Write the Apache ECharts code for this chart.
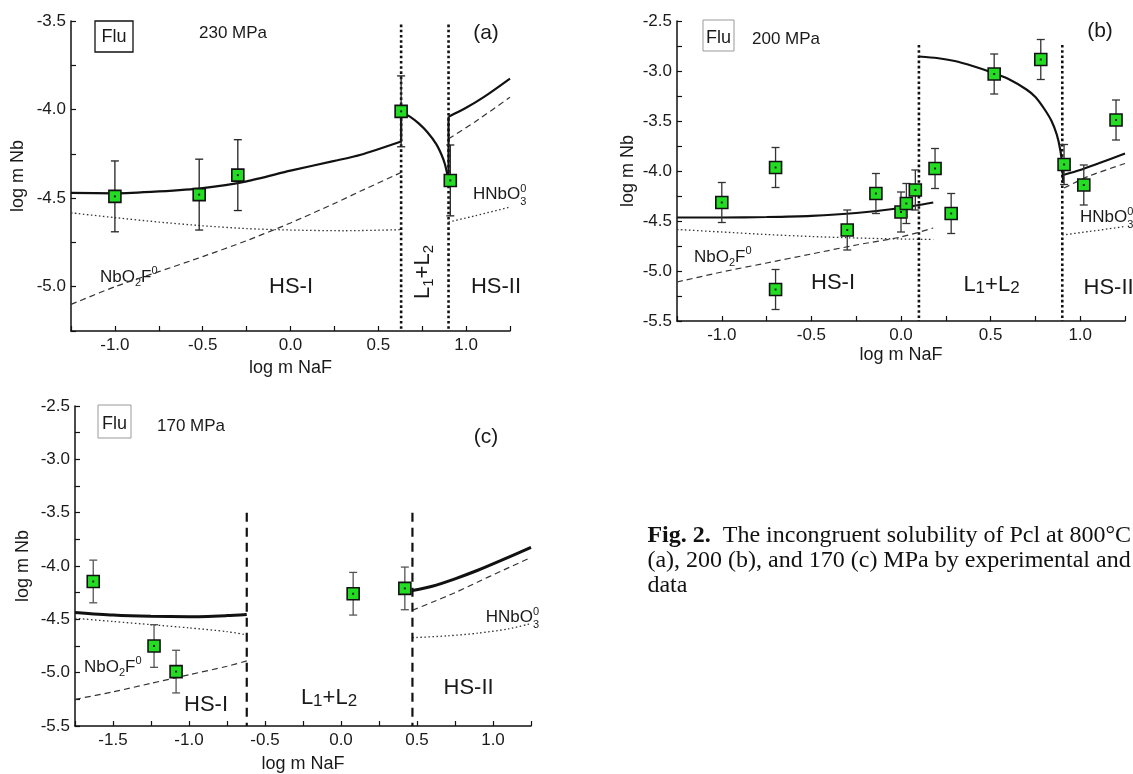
<!DOCTYPE html>
<html><head><meta charset="utf-8">
<script src="https://cdn.jsdelivr.net/npm/echarts@6/dist/echarts.min.js"></script>
<style>html,body{margin:0;padding:0;background:#fff}#c{width:1133px;height:774px}</style>
</head><body><div id="c"></div>
<script>
// ---------- Panel (a) 230 MPa ----------
const aExpX   = [-1.0, -0.52, -0.3, 0.63, 0.91];
const aExpY   = [-4.49, -4.48, -4.37, -4.01, -4.40];
const aExpErr = [0.2, 0.2, 0.2, 0.2, 0.2];
const aTot1X = [-1.25, -1.0, -0.75, -0.5, -0.25, 0, 0.25, 0.4, 0.63];
const aTot1Y = [-4.47, -4.473, -4.462, -4.443, -4.405, -4.345, -4.29, -4.255, -4.18];
const aL12X  = [0.63, 0.68, 0.73, 0.78, 0.83, 0.86, 0.88, 0.9];
const aL12Y  = [-4.01, -4.04, -4.078, -4.128, -4.195, -4.255, -4.31, -4.40];
const aTot2X = [0.9, 1.0, 1.1, 1.25];
const aTot2Y = [-4.04, -3.99, -3.93, -3.825];
const aNbO2F1X = [-1.25, -1.0, -0.75, -0.5, -0.25, 0, 0.25, 0.4, 0.63];
const aNbO2F1Y = [-5.10, -5.0, -4.915, -4.83, -4.74, -4.64, -4.53, -4.46, -4.355];
const aNbO2F2X = [0.9, 1.05, 1.25];
const aNbO2F2Y = [-4.165, -4.07, -3.93];
const aHNbO31X = [-1.25, -1.0, -0.75, -0.5, -0.25, 0, 0.3, 0.63];
const aHNbO31Y = [-4.583, -4.61, -4.635, -4.656, -4.672, -4.68, -4.684, -4.678];
const aHNbO32X = [0.9, 1.05, 1.25];
const aHNbO32Y = [-4.635, -4.6, -4.55];
const aBounds = [0.63, 0.9];
const aBoundTop = -3.52;

// ---------- Panel (b) 200 MPa ----------
const bExpX   = [-1.0, -0.7, -0.7, -0.3, -0.14, 0.0, 0.03, 0.08, 0.19, 0.28, 0.52, 0.78, 0.91, 1.02, 1.2];
const bExpY   = [-4.315, -3.965, -5.185, -4.59, -4.225, -4.41, -4.325, -4.19, -3.975, -4.425, -3.03, -2.885, -3.935, -4.14, -3.49];
const bExpErr = [0.2, 0.2, 0.2, 0.2, 0.2, 0.2, 0.2, 0.2, 0.2, 0.2, 0.2, 0.2, 0.2, 0.2, 0.2];
const bTot1X = [-1.25, -1.0, -0.75, -0.5, -0.25, 0, 0.18];
const bTot1Y = [-4.465, -4.465, -4.46, -4.448, -4.42, -4.37, -4.315];
const bL12X  = [0.1, 0.2, 0.3, 0.4, 0.5, 0.6, 0.7, 0.75, 0.8, 0.84, 0.87, 0.89, 0.9, 0.905];
const bL12Y  = [-2.855, -2.87, -2.9, -2.95, -3.01, -3.08, -3.185, -3.26, -3.38, -3.5, -3.64, -3.8, -3.95, -4.12];
const bTot2X = [0.905, 1.0, 1.1, 1.25];
const bTot2Y = [-4.04, -3.99, -3.925, -3.825];
const bNbO2F1X = [-1.25, -1.0, -0.75, -0.5, -0.25, 0, 0.18];
const bNbO2F1Y = [-5.11, -5.01, -4.92, -4.83, -4.74, -4.66, -4.57];
const bNbO2F2X = [0.91, 1.05, 1.25];
const bNbO2F2Y = [-4.17, -4.05, -3.925];
const bHNbO31X = [-1.25, -1.0, -0.75, -0.5, -0.25, 0, 0.18];
const bHNbO31Y = [-4.585, -4.61, -4.635, -4.655, -4.67, -4.68, -4.685];
const bHNbO32X = [0.9, 1.05, 1.25];
const bHNbO32Y = [-4.64, -4.605, -4.555];
const bBounds = [0.1, 0.9];
const bBoundTop = -2.74;

// ---------- Panel (c) 170 MPa ----------
const cExpX   = [-1.63, -1.23, -1.085, 0.08, 0.42];
const cExpY   = [-4.145, -4.75, -4.99, -4.26, -4.21];
const cExpErr = [0.2, 0.2, 0.2, 0.2, 0.2];
const cTot1X = [-1.75, -1.5, -1.25, -1.0, -0.75, -0.62];
const cTot1Y = [-4.435, -4.46, -4.472, -4.475, -4.465, -4.455];
const cTot2X = [0.47, 0.6, 0.75, 0.9, 1.05, 1.25];
const cTot2Y = [-4.23, -4.19, -4.12, -4.04, -3.95, -3.825];
const cNbO2F1X = [-1.75, -1.5, -1.25, -1.0, -0.75, -0.62];
const cNbO2F1Y = [-5.25, -5.18, -5.1, -5.02, -4.94, -4.89];
const cNbO2F2X = [0.47, 0.6, 0.75, 0.9, 1.05, 1.25];
const cNbO2F2Y = [-4.415, -4.34, -4.25, -4.15, -4.05, -3.92];
const cHNbO31X = [-1.75, -1.5, -1.25, -1.0, -0.75, -0.62];
const cHNbO31Y = [-4.49, -4.52, -4.55, -4.58, -4.615, -4.645];
const cHNbO32X = [0.47, 0.7, 0.9, 1.1, 1.25];
const cHNbO32Y = [-4.672, -4.655, -4.63, -4.59, -4.54];
const cBounds = [-0.62, 0.47];
const cBoundTop = -3.5;

// axis ranges
const xRanges = [[-1.25, 1.25], [-1.25, 1.25], [-1.75, 1.25]];
const yRanges = [[-5.25, -3.5], [-5.5, -2.5], [-5.5, -2.5]];

const FF = '"Liberation Sans", Arial, sans-serif';
const SERIF = '"Liberation Serif", "Times New Roman", serif';
const INK = '#1a1a1a';

const mc = document.createElement('canvas').getContext('2d');
function tw(t, s, fam, w) { mc.font = (w || 'normal') + ' ' + s + 'px ' + fam; return mc.measureText(t).width; }

function fmt(v) {
  if (Math.abs(v * 2 - Math.round(v * 2)) > 1e-6) return '';
  if (Math.abs(v) < 1e-9) return '0.0';
  return v.toFixed(1);
}

function xAx(i, gap) {
  return {
    type: 'value', gridIndex: i, min: xRanges[i][0], max: xRanges[i][1], interval: 0.25,
    name: 'log m NaF', nameLocation: 'middle', nameGap: gap,
    nameTextStyle: { fontFamily: FF, fontSize: 18, color: INK },
    axisLine: { onZero: false, lineStyle: { color: '#111', width: 1.5 } },
    axisTick: { inside: true, length: 5, lineStyle: { color: '#111', width: 1.2 } },
    axisLabel: { formatter: fmt, fontFamily: FF, fontSize: 17, color: INK, margin: 6 },
    splitLine: { show: false }
  };
}
function yAx(i, gap) {
  return {
    type: 'value', gridIndex: i, min: yRanges[i][0], max: yRanges[i][1], interval: 0.25,
    name: 'log m Nb', nameLocation: 'middle', nameGap: gap, nameRotate: 90,
    nameTextStyle: { fontFamily: FF, fontSize: 18, color: INK },
    axisLine: { onZero: false, lineStyle: { color: '#111', width: 1.5 } },
    axisTick: { inside: true, length: 5, lineStyle: { color: '#111', width: 1.2 } },
    axisLabel: { formatter: fmt, fontFamily: FF, fontSize: 17, color: INK, margin: 5 },
    splitLine: { show: false }
  };
}

const SOLID = { color: '#111', width: 2.2, type: 'solid' };
const SOLIDC = { color: '#111', width: 3, type: 'solid' };
const DASH = { color: '#333', width: 1.2, type: [6, 4] };
const DOT = { color: '#333', width: 1.3, type: [1.5, 2.5] };
const BDOT = { color: '#111', width: 2.6, type: [2.6, 2.6] };
const BDASH = { color: '#111', width: 2.2, type: [9, 6] };

function zip(xs, ys) { return xs.map((x, k) => [x, ys[k]]); }
function lineS(i, xs, ys, style, smooth) {
  return { type: 'line', xAxisIndex: i, yAxisIndex: i, data: zip(xs, ys), symbol: 'none', showSymbol: false,
    smooth: smooth || false, lineStyle: style, silent: true, z: 3 };
}
function connector(i, x1s, y1s, x2s, y2s, style) {
  return lineS(i, [x1s[x1s.length - 1], x2s[0]], [y1s[y1s.length - 1], y2s[0]], style, false);
}
function bounds(i, xs, top, style) {
  return xs.map(x => lineS(i, [x, x], [top, yRanges[i][0]], style, false));
}
function pts(i, xs, ys, errs, barColor) {
  return {
    type: 'custom', xAxisIndex: i, yAxisIndex: i, z: 6, silent: true,
    data: xs.map((x, k) => [x, ys[k], errs[k]]),
    encode: { x: 0, y: 1 },
    renderItem: function (params, api) {
      const x = api.value(0), y = api.value(1), e = api.value(2);
      const c = api.coord([x, y]), t = api.coord([x, y + e]), b = api.coord([x, y - e]);
      const cap = 4, s = 6;
      const ls = { stroke: barColor, lineWidth: 1.3 };
      return { type: 'group', children: [
        { type: 'line', shape: { x1: c[0], y1: t[1], x2: c[0], y2: b[1] }, style: ls },
        { type: 'line', shape: { x1: c[0] - cap, y1: t[1], x2: c[0] + cap, y2: t[1] }, style: ls },
        { type: 'line', shape: { x1: c[0] - cap, y1: b[1], x2: c[0] + cap, y2: b[1] }, style: ls },
        { type: 'rect', shape: { x: c[0] - s, y: c[1] - s, width: 2 * s, height: 2 * s }, style: { fill: '#22dd22', stroke: '#111', lineWidth: 1.6 } },
        { type: 'rect', shape: { x: c[0] - 1, y: c[1] - 1, width: 2, height: 2 }, style: { fill: '#222' } }
      ] };
    }
  };
}

function comp(x, y, parts, opts) {
  opts = opts || {};
  const fam = opts.fam || FF;
  let total = 0;
  parts.forEach(p => { if (p.adv !== false) total += tw(p.t, p.s, fam, p.w); });
  let cx = opts.align === 'center' ? -total / 2 : 0;
  const children = [];
  parts.forEach(p => {
    children.push({ type: 'text', x: cx, y: p.dy || 0, silent: true,
      style: { text: p.t, fontSize: p.s, fontFamily: fam, fontWeight: p.w || 'normal', fill: opts.color || INK,
        textAlign: 'left', textVerticalAlign: 'middle' } });
    if (p.adv !== false) cx += tw(p.t, p.s, fam, p.w);
  });
  return { type: 'group', x: x, y: y, rotation: opts.rot || 0, silent: true, children: children };
}
function txt(x, y, t, s, align) {
  return { type: 'text', x: x, y: y, silent: true,
    style: { text: t, fontSize: s, fontFamily: FF, fill: INK, textAlign: align || 'center', textVerticalAlign: 'middle' } };
}
function box(x, y, w, h, col, lw) {
  return { type: 'rect', silent: true, shape: { x: x, y: y, width: w, height: h }, style: { fill: 'none', stroke: col, lineWidth: lw } };
}
function nbo2f(x, y) {
  return comp(x, y, [{ t: 'NbO', s: 17 }, { t: '2', s: 11, dy: 6 }, { t: 'F', s: 17 }, { t: '0', s: 11, dy: -6 }]);
}
function hnbo3(x, y) {
  return comp(x, y, [{ t: 'HNbO', s: 17 }, { t: '0', s: 11, dy: -5, adv: false }, { t: '3', s: 11, dy: 8 }]);
}
function l12(x, y, rot) {
  if (rot) return comp(x, y, [{ t: 'L', s: 22 }, { t: '1', s: 15, dy: 6 }, { t: '+', s: 22 }, { t: 'L', s: 22 }, { t: '2', s: 15, dy: 6 }], { align: 'center', rot: rot });
  return comp(x, y, [{ t: 'L', s: 22 }, { t: '1', s: 17, dy: 3 }, { t: '+', s: 22 }, { t: 'L', s: 22 }, { t: '2', s: 17, dy: 3 }], { align: 'center' });
}

// caption (runs off the right edge like the reference)
const capSize = 24;
const capLine1 = [{ t: 'Fig. 2.', w: 'bold' }, { t: '  The incongruent solubility of Pcl at 800°C' }];
const capW1 = tw('Fig. 2.', capSize, SERIF, 'bold') + tw('  The incongruent solubility of Pcl at 800°C', capSize, SERIF);
const capX = 1131 - capW1;
function capLine(x, y, parts) {
  return comp(x, y, parts.map(p => ({ t: p.t, s: capSize, w: p.w })), { fam: SERIF, color: '#111' });
}

const series = [].concat(
  [lineS(0, aNbO2F1X, aNbO2F1Y, DASH, 0.25), lineS(0, aNbO2F2X, aNbO2F2Y, DASH, 0.25),
   lineS(0, aHNbO31X, aHNbO31Y, DOT, 0.25), lineS(0, aHNbO32X, aHNbO32Y, DOT, 0.25)],
  bounds(0, aBounds, aBoundTop, BDOT),
  [lineS(0, aTot1X, aTot1Y, SOLID, 0.25), connector(0, aTot1X, aTot1Y, aL12X, aL12Y, SOLID),
   lineS(0, aL12X, aL12Y, SOLID, 0.25), connector(0, aL12X, aL12Y, aTot2X, aTot2Y, SOLID),
   lineS(0, aTot2X, aTot2Y, SOLID, 0.25), pts(0, aExpX, aExpY, aExpErr, '#222')],
  [lineS(1, bNbO2F1X, bNbO2F1Y, DASH, 0.25), lineS(1, bNbO2F2X, bNbO2F2Y, DASH, 0.25),
   lineS(1, bHNbO31X, bHNbO31Y, DOT, 0.25), lineS(1, bHNbO32X, bHNbO32Y, DOT, 0.25)],
  bounds(1, bBounds, bBoundTop, BDOT),
  [lineS(1, bTot1X, bTot1Y, SOLID, 0.25), lineS(1, bL12X, bL12Y, SOLID, 0.2),
   lineS(1, bTot2X, bTot2Y, SOLID, 0.25), pts(1, bExpX, bExpY, bExpErr, '#333')],
  [lineS(2, cNbO2F1X, cNbO2F1Y, DASH, 0.25), lineS(2, cNbO2F2X, cNbO2F2Y, DASH, 0.25),
   lineS(2, cHNbO31X, cHNbO31Y, DOT, 0.25), lineS(2, cHNbO32X, cHNbO32Y, DOT, 0.25)],
  bounds(2, cBounds, cBoundTop, BDASH),
  [lineS(2, cTot1X, cTot1Y, SOLIDC, 0.25), lineS(2, cTot2X, cTot2Y, SOLIDC, 0.25),
   pts(2, cExpX, cExpY, cExpErr, '#555')]
);

const graphic = [
  box(95, 21, 38, 31, '#111', 1.3), txt(114, 37, 'Flu', 18),
  txt(233, 33, '230 MPa', 17), txt(486, 33, '(a)', 21),
  nbo2f(100, 277), txt(291, 287, 'HS-I', 22), l12(423, 272, Math.PI / 2), txt(496, 287, 'HS-II', 22),
  hnbo3(473, 194),
  box(703, 20, 31, 31, '#999', 1), txt(718.5, 38, 'Flu', 18),
  txt(786, 39, '200 MPa', 17), txt(1100, 31, '(b)', 21),
  nbo2f(694, 257), txt(833, 283, 'HS-I', 22), l12(991.5, 285), txt(1083.5, 288, 'HS-II', 22, 'left'),
  hnbo3(1080, 217),
  box(98, 405, 33, 33, '#999', 1), txt(114.5, 424, 'Flu', 18),
  txt(191, 426, '170 MPa', 17), txt(486, 437, '(c)', 21),
  nbo2f(84, 667), txt(206, 705, 'HS-I', 22), l12(329, 698), txt(468.6, 688, 'HS-II', 22),
  hnbo3(485.7, 617),
  capLine(capX, 536, capLine1),
  capLine(capX, 561, [{ t: '(a), 200 (b), and 170 (c) MPa by experimental and' }]),
  capLine(capX, 586, [{ t: 'data' }])
];

const chart = echarts.init(document.getElementById('c'), null, { renderer: 'canvas' });
chart.setOption({
  animation: false,
  backgroundColor: '#fff',
  grid: [
    { left: 71, top: 21, width: 439, height: 310, show: false },
    { left: 677, top: 21, width: 448, height: 300, show: false },
    { left: 75, top: 406, width: 456, height: 322, show: false }
  ],
  xAxis: [xAx(0, 28), xAx(1, 25), xAx(2, 29)],
  yAxis: [yAx(0, 44), yAx(1, 40), yAx(2, 43)],
  series: series,
  graphic: graphic
});
</script></body></html>
